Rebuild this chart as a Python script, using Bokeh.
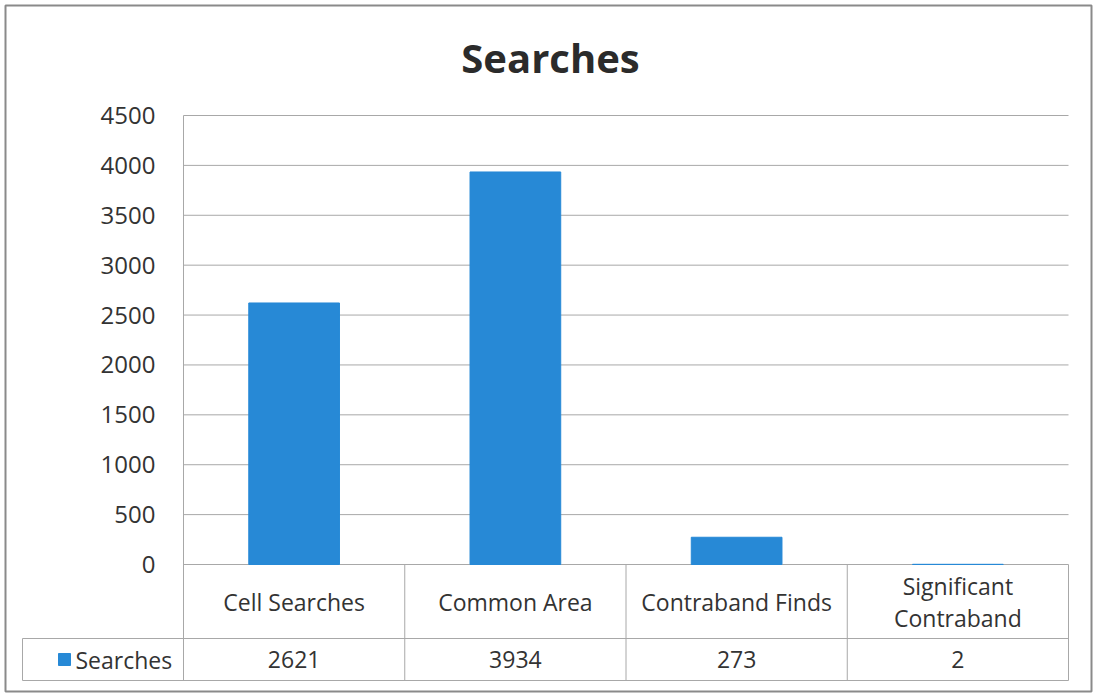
from bokeh.plotting import figure
from bokeh.models import Range1d, FixedTicker, LinearAxis, Label
from bokeh.core.properties import value
from bokeh.embed import file_html
from bokeh.resources import INLINE

# ---- data ----
categories = ["Cell Searches", "Common Area", "Contraband Finds", "Significant\nContraband"]
searches = [2621, 3934, 273, 2]
series_name = "Searches"
y_ticks = [0, 500, 1000, 1500, 2000, 2500, 3000, 3500, 4000, 4500]
title_text = "Searches"

BAR = "#2789d6"
GRID = "#a8a8a8"
TXT = "#333333"
FONT = "Open Sans"
n = len(categories)
xs = [i + 0.5 for i in range(n)]

# ---- geometry (page pixels) ----
FX0, FY0 = 5, 5             # frame (outer border box) top-left on the page
FX1, FY1 = 1091, 691        # frame bottom-right on the page
AX_L, AX_R = 183, 1068      # plot area left/right
ZERO, TOP = 564, 115        # y pixel of 0 and of top tick
sx = (AX_R - AX_L) / n
sy = (ZERO - TOP) / y_ticks[-1]
def dx(px): return (px - AX_L) / sx
def dy(py): return (ZERO - py) / sy

row_top, row_mid, row_bot = 0, dy(638), dy(680)
left = dx(22)

p = figure(width=FX1 + 2, height=FY1 + 2, output_backend="svg", toolbar_location=None,
           x_range=Range1d(dx(FX0), dx(FX1)), y_range=Range1d(dy(FY1), dy(FY0)),
           min_border_left=FX0, min_border_right=2, min_border_top=FY0, min_border_bottom=2,
           y_axis_location=None, x_axis_location=None)
p.grid.visible = False
p.outline_line_color = "#8a8a8a"
p.outline_line_width = 2

# title
p.add_layout(Label(x=dx(550), y=dy(57), text=title_text, text_align="center",
                   text_baseline="middle", text_font=FONT, text_font_size="40px",
                   text_font_style="bold", text_color="#2b2b2b"))

# y axis drawn at the plot-area edge
yax = LinearAxis(fixed_location=0, ticker=FixedTicker(ticks=y_ticks), bounds=(row_bot, y_ticks[-1]))
yax.major_tick_line_color = None
yax.minor_tick_line_color = None
yax.axis_line_color = GRID
yax.major_label_text_font = FONT
yax.major_label_text_font_size = "24px"
yax.major_label_text_color = TXT
yax.major_label_standoff = 22
p.add_layout(yax, "left")

# horizontal gridlines across the plot area
p.segment(x0=[0] * len(y_ticks), y0=y_ticks, x1=[n] * len(y_ticks), y1=y_ticks,
          line_color=GRID, line_width=1)

# bars
p.vbar(x=xs, top=searches, width=0.41, color=BAR)

# ---- data table ----
hy = [row_mid, row_bot]
p.segment(x0=[left, left], y0=hy, x1=[n, n], y1=hy, line_color=GRID, line_width=1)
vx = list(range(1, n + 1))
p.segment(x0=vx, y0=[row_bot] * len(vx), x1=vx, y1=[row_top] * len(vx), line_color=GRID, line_width=1)
p.segment(x0=[left], y0=[row_bot], x1=[left], y1=[row_mid], line_color=GRID, line_width=1)
cat_y = (row_top + row_mid) / 2
val_y = (row_mid + row_bot) / 2
p.text(x=xs, y=[cat_y] * n, text=categories, text_align="center", text_baseline="middle",
       text_font=value(FONT), text_font_size="23px", text_color=TXT, text_line_height=1.0)
p.text(x=xs, y=[val_y] * n, text=[str(v) for v in searches], text_align="center",
       text_baseline="middle", text_font=value(FONT), text_font_size="23px", text_color=TXT)
p.rect(x=[dx(64)], y=[val_y], width=12, height=12, width_units="screen",
       height_units="screen", color=BAR)
p.text(x=[dx(75)], y=[val_y], text=[series_name], text_align="left",
       text_baseline="middle", text_font=value(FONT), text_font_size="23px", text_color=TXT)

open("out.html", "w").write(file_html(p, INLINE))
